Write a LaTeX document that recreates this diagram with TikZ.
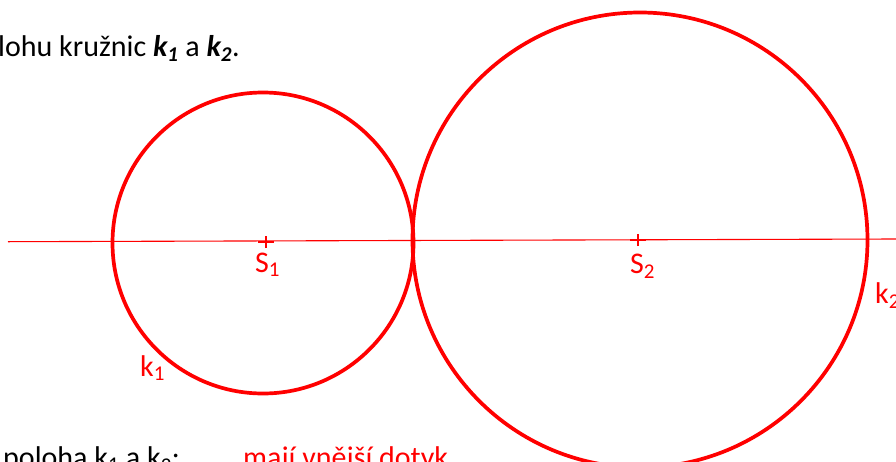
\documentclass[tikz,border=0pt]{standalone}
\usepackage{fontspec}
\setmainfont{Carlito}
\begin{document}
\begin{tikzpicture}[x=1pt, y=-1pt,
    kruh/.style={red, line width=3.7pt},
    kriz/.style={red, line width=2.6pt},
    popis/.style={red, font=\fontsize{30}{36}\selectfont, inner sep=0pt, anchor=base west},
    veta/.style={black, font=\fontsize{30}{36}\selectfont, inner sep=0pt, anchor=base west}]
    \useasboundingbox (0,0) rectangle (896,461);
    \clip (0,0) rectangle (896,461);

    % stredy kruznic
    \coordinate (S1) at (263,243);
    \coordinate (S2) at (640,240);

    % primka stredu
    \coordinate (p1) at (8,241.7);
    \coordinate (p2) at (896,239);
    \draw[red, line width=1.1pt] (p1) -- (p2);

    % kruznice k1 a k2
    \draw[kruh] (S1) circle (150.5);
    \draw[kruh] (S2) circle (227.5);

    % oznaceni stredu
    \coordinate (c1) at (266,242);
    \coordinate (c2) at (638,240);
    \draw[kriz] ([xshift=-8pt]c1) -- ([xshift=8pt]c1)
        ([yshift=-6pt]c1) -- ([yshift=6pt]c1);
    \draw[kriz] ([xshift=-8pt]c2) -- ([xshift=8pt]c2)
        ([yshift=-6pt]c2) -- ([yshift=6pt]c2);

    \node[popis] (s1) at (255,272) {S\textsubscript{1}};
    \node[popis] (s2) at (630,273) {S\textsubscript{2}};
    \node[popis] (k1) at (140,376) {k\textsubscript{1}};
    \node[popis] (k2) at (875,303) {k\textsubscript{2}};

    % texty zadani
    \node[veta] (zadani) at (-2,56) {lohu kružnic \textbf{\textit{k\textsubscript{1}}} a \textbf{\textit{k\textsubscript{2}}}.};
    \node[veta] (poloha) at (3,467) {poloha k\textsubscript{1} a k\textsubscript{2}:};
    \node[popis] (odpoved) at (243,467) {mají vnější dotyk};
\end{tikzpicture}
\end{document}
